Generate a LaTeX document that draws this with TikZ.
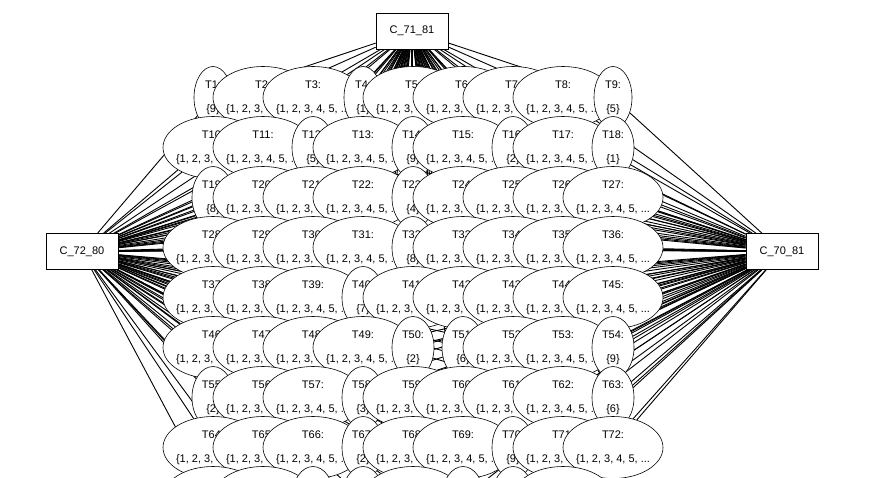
\documentclass[tikz,border=0pt]{standalone}
\usepackage{fontspec}
\setmainfont{Liberation Sans}
\usetikzlibrary{shapes.geometric,backgrounds}
\begin{document}
\begin{tikzpicture}[x=1pt,y=-1pt,
  tell/.style={ellipse,draw=black,line width=0.6pt,fill=white,inner sep=0pt,minimum height=62pt},
  ttext/.style={inner sep=0pt,font=\fontsize{11}{13}\selectfont},
  cbox/.style={rectangle,draw=black,line width=0.7pt,fill=white,minimum width=72pt,minimum height=36pt,inner sep=0pt,font=\fontsize{11}{13}\selectfont},
  edge/.style={draw=black,line width=0.9pt}]
\useasboundingbox (0,0) rectangle (872,477);
\node[cbox] (C71) at (412,31) {C\_71\_81};
\node[cbox] (C72) at (82,251.5) {C\_72\_80};
\node[cbox] (C70) at (782,251.5) {C\_70\_81};
\foreach \k/\s in {1/9,2/w,3/w,4/1,5/w,6/w,7/w,8/w,9/5,
  10/w,11/w,12/5,13/w,14/9,15/w,16/2,17/w,18/1,
  19/8,20/w,21/w,22/w,23/4,24/w,25/w,26/w,27/w,
  28/w,29/w,30/w,31/w,32/8,33/w,34/w,35/w,36/w,
  37/w,38/w,39/w,40/7,41/w,42/w,43/w,44/w,45/w,
  46/w,47/w,48/w,49/w,50/2,51/6,52/w,53/w,54/9,
  55/2,56/w,57/w,58/3,59/w,60/w,61/w,62/w,63/6,
  64/w,65/w,66/w,67/2,68/w,69/w,70/9,71/w,72/w} {
  \pgfmathtruncatemacro\cc{mod(\k-1,9)}
  \pgfmathtruncatemacro\rr{(\k-1)/9}
  \pgfmathsetmacro\px{213+50*\cc}
  \pgfmathsetmacro\py{97.5+50*\rr}
  \if w\s
    \node[tell,minimum width=100pt] (T\k) at (\px,\py) {};
    \node[ttext] (T\k l) at (\px,\py-12.5) {T\k:};
    \node[ttext] (T\k s) at (\px,\py+12.5) {\{1, 2, 3, 4, 5, ...};
  \else
    \ifnum\k<10
      \node[tell,minimum width=38pt] (T\k) at (\px,\py) {};
    \else
      \node[tell,minimum width=42pt] (T\k) at (\px,\py) {};
    \fi
    \node[ttext] (T\k l) at (\px,\py-12.5) {T\k:};
    \node[ttext] (T\k s) at (\px,\py+12.5) {\{\s\}};
  \fi
}
% partly visible ninth row (labels fall below the picture)
\foreach \k/\s in {73/w,74/w,75/n,76/n,77/w,78/n,79/n,80/w} {
  \pgfmathtruncatemacro\cc{mod(\k-1,9)}
  \pgfmathsetmacro\px{213+50*\cc}
  \if w\s
    \node[tell,minimum width=100pt] (T\k) at (\px,497.5) {};
  \else
    \node[tell,minimum width=42pt] (T\k) at (\px,497.5) {};
  \fi
}
\begin{scope}[on background layer]
\foreach \k in {1,...,80} {
  \draw[edge] (C71) -- (T\k);
  \draw[edge] (C72) -- (T\k);
  \draw[edge] (C70) -- (T\k);
}
\end{scope}
\end{tikzpicture}
\end{document}
